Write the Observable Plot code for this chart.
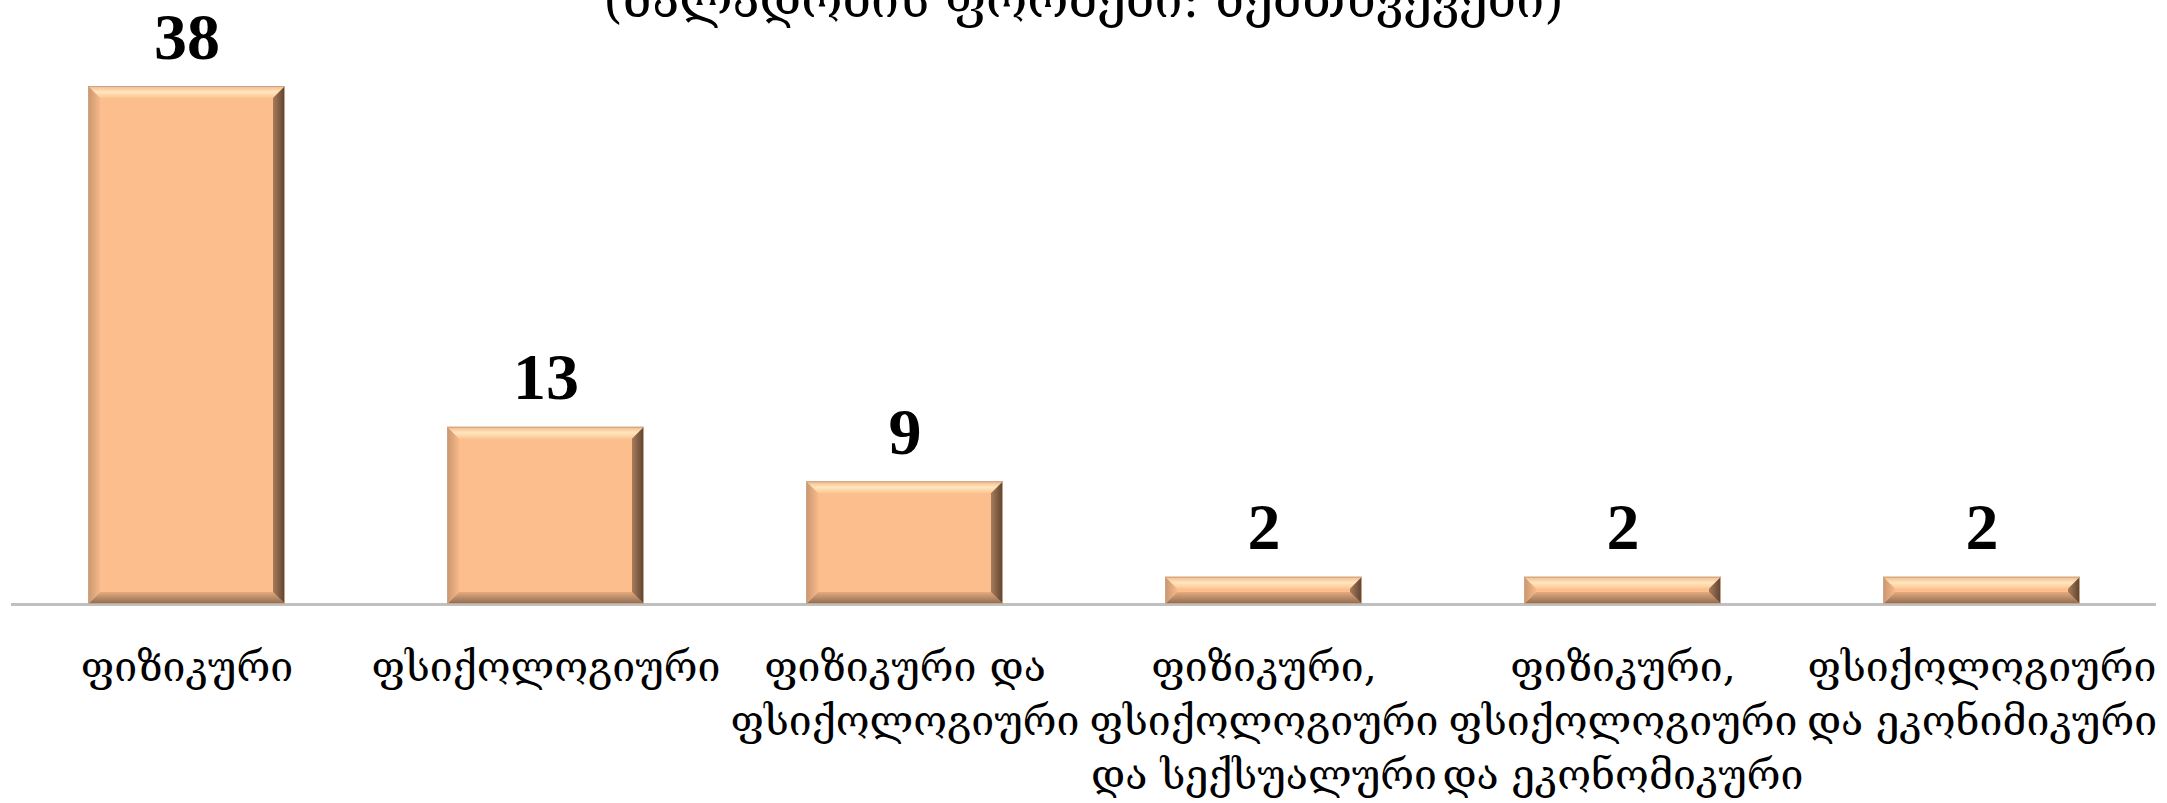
<!DOCTYPE html>
<html>
<head>
<meta charset="utf-8">
<script src="https://cdn.jsdelivr.net/npm/d3@7"></script>
<script src="https://cdn.jsdelivr.net/npm/@observablehq/plot@0.6"></script>
<style>
  html, body { margin: 0; padding: 0; background: #fff; overflow: hidden; }
  #wrap { position: relative; width: 2167px; height: 803px; }
  #title { position: absolute; left: 0; top: -25px; width: 2167px; text-align: center;
           font-family: "DejaVu Serif", serif; font-size: 50px; line-height: 50px; color: #000; }
  #chart { position: absolute; left: 0; top: 0; }
</style>
</head>
<body>
<div id="wrap">
  <div id="chart"></div>
  <div id="title">(ძალადობის ფორმები: შემთხვევები)</div>
</div>
<script>
const categories = [
  "ფიზიკური",
  "ფსიქოლოგიური",
  "ფიზიკური და ფსიქოლოგიური",
  "ფიზიკური, ფსიქოლოგიური და სექსუალური",
  "ფიზიკური, ფსიქოლოგიური და ეკონომიკური",
  "ფსიქოლოგიური და ეკონიმიკური"
];
const tickLabels = [
  "ფიზიკური",
  "ფსიქოლოგიური",
  "ფიზიკური და\nფსიქოლოგიური",
  "ფიზიკური,\nფსიქოლოგიური\nდა სექსუალური",
  "ფიზიკური,\nფსიქოლოგიური\nდა ეკონომიკური",
  "ფსიქოლოგიური\nდა ეკონიმიკური"
];
const values = [38, 13, 9, 2, 2, 2];

const data = categories.map((c, i) => ({category: c, value: values[i]}));

const chart = Plot.plot({
  width: 2167,
  height: 803,
  marginLeft: 7,
  marginRight: 5,
  marginTop: 86,
  marginBottom: 199,
  style: {background: "white", color: "black"},
  x: {domain: categories, paddingInner: 0.45, paddingOuter: 0.225, axis: null, label: null},
  y: {domain: [0, 38], axis: null},
  marks: [
    Plot.ruleY([0], {stroke: "#c0c0c0", strokeWidth: 3, insetLeft: 4, insetRight: 6}),
    Plot.barY(data, {x: "category", y: "value", fill: "#fdbe8e", className: "bevelbar"}),
    Plot.text(data, {x: "category", y: "value", text: d => String(d.value), dy: -28,
      lineAnchor: "bottom", fontSize: 66, fontWeight: "bold", fontFamily: "Liberation Serif", fill: "black"}),
    Plot.axisX({tickSize: 0, tickPadding: 38, fontSize: 41, lineHeight: 1.32,
      fontFamily: "DejaVu Serif", fill: "black", label: null,
      tickFormat: d => tickLabels[categories.indexOf(d)]})
  ]
});
document.getElementById("chart").appendChild(chart);

// Bevel decoration on the bars drawn by Plot
const ns = "http://www.w3.org/2000/svg";
const defs = document.createElementNS(ns, "defs");
defs.innerHTML = `
  <linearGradient id="bvTop" x1="0" y1="0" x2="0" y2="1">
    <stop offset="0" stop-color="#f2b98a"/><stop offset="0.5" stop-color="#ffe6bd"/><stop offset="1" stop-color="#fdc594"/>
  </linearGradient>
  <linearGradient id="bvBottom" x1="0" y1="0" x2="0" y2="1">
    <stop offset="0" stop-color="#e6aa7c"/><stop offset="1" stop-color="#8a6a52"/>
  </linearGradient>
  <linearGradient id="bvLeft" x1="0" y1="0" x2="1" y2="0">
    <stop offset="0" stop-color="#c9966f"/><stop offset="1" stop-color="#f6b889"/>
  </linearGradient>
  <linearGradient id="bvRight" x1="0" y1="0" x2="1" y2="0">
    <stop offset="0" stop-color="#a97c5a"/><stop offset="1" stop-color="#5a4231"/>
  </linearGradient>`;
chart.insertBefore(defs, chart.firstChild);
const g = chart.querySelector("g.bevelbar") || chart.querySelector(".bevelbar");
const rects = g ? g.querySelectorAll("rect") : [];
rects.forEach(r => {
  const x = +r.getAttribute("x"), y = +r.getAttribute("y");
  const w = +r.getAttribute("width"), h = +r.getAttribute("height");
  const b = Math.min(12, h / 2);
  const parent = r.parentNode;
  const poly = (pts, fill) => {
    const p = document.createElementNS(ns, "polygon");
    p.setAttribute("points", pts.map(q => q.join(",")).join(" "));
    p.setAttribute("fill", fill);
    parent.appendChild(p);
  };
  const x0 = x, x1 = x + w, y0 = y, y1 = y + h;
  poly([[x0, y0], [x1, y0], [x1 - b, y0 + b], [x0 + b, y0 + b]], "url(#bvTop)");
  poly([[x0 + b, y1 - b], [x1 - b, y1 - b], [x1, y1], [x0, y1]], "url(#bvBottom)");
  poly([[x0, y0], [x0 + b, y0 + b], [x0 + b, y1 - b], [x0, y1]], "url(#bvLeft)");
  poly([[x1, y0], [x1, y1], [x1 - b, y1 - b], [x1 - b, y0 + b]], "url(#bvRight)");
  const o = document.createElementNS(ns, "rect");
  o.setAttribute("x", x0 + 0.5); o.setAttribute("y", y0 + 0.5);
  o.setAttribute("width", w - 1); o.setAttribute("height", h - 1);
  o.setAttribute("fill", "none"); o.setAttribute("stroke", "#c9a487"); o.setAttribute("stroke-width", 1);
  parent.appendChild(o);
});
</script>
</body>
</html>
